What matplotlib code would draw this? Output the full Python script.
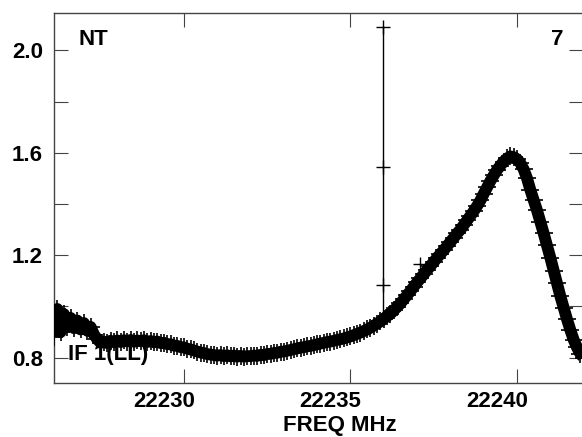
import matplotlib
matplotlib.use('Agg')
import matplotlib.pyplot as plt
from matplotlib.transforms import ScaledTranslation

# --- data (channel frequency in MHz, amplitude) ---
freq_mhz = [
    22226.1, 22226.2, 22226.3, 22226.4, 22226.5, 22226.6, 22226.7, 22226.8, 22226.9, 22227.0,
    22227.1, 22227.2, 22227.3, 22227.4, 22227.5, 22227.6, 22227.7, 22227.8, 22227.9, 22228.0,
    22228.1, 22228.2, 22228.3, 22228.4, 22228.5, 22228.6, 22228.7, 22228.8, 22228.9, 22229.0,
    22229.1, 22229.2, 22229.3, 22229.4, 22229.5, 22229.6, 22229.7, 22229.8, 22229.9, 22230.0,
    22230.1, 22230.2, 22230.3, 22230.4, 22230.5, 22230.6, 22230.7, 22230.8, 22230.9, 22231.0,
    22231.1, 22231.2, 22231.3, 22231.4, 22231.5, 22231.6, 22231.7, 22231.8, 22231.9, 22232.0,
    22232.1, 22232.2, 22232.3, 22232.4, 22232.5, 22232.6, 22232.7, 22232.8, 22232.9, 22233.0,
    22233.1, 22233.2, 22233.3, 22233.4, 22233.5, 22233.6, 22233.7, 22233.8, 22233.9, 22234.0,
    22234.1, 22234.2, 22234.3, 22234.4, 22234.5, 22234.6, 22234.7, 22234.8, 22234.9, 22235.0,
    22235.1, 22235.2, 22235.3, 22235.4, 22235.5, 22235.6, 22235.7, 22235.8, 22235.9, 22236.0,
    22236.1, 22236.2, 22236.3, 22236.4, 22236.5, 22236.6, 22236.7, 22236.8, 22236.9, 22237.0,
    22237.1, 22237.2, 22237.3, 22237.4, 22237.5, 22237.6, 22237.7, 22237.8, 22237.9, 22238.0,
    22238.1, 22238.2, 22238.3, 22238.4, 22238.5, 22238.6, 22238.7, 22238.8, 22238.9, 22239.0,
    22239.1, 22239.2, 22239.3, 22239.4, 22239.5, 22239.6, 22239.7, 22239.8, 22239.9, 22240.0,
    22240.1, 22240.2, 22240.3, 22240.4, 22240.5, 22240.6, 22240.7, 22240.8, 22240.9, 22241.0,
    22241.1, 22241.2, 22241.3, 22241.4, 22241.5, 22241.6, 22241.7, 22241.8, 22241.9, 22242.0,
]
amp = [
    0.880, 0.990, 0.900, 0.970, 0.920, 0.955, 0.915, 0.945, 0.910, 0.935,
    0.905, 0.920, 0.890, 0.872, 0.858, 0.862, 0.857, 0.866, 0.860, 0.867,
    0.861, 0.868, 0.863, 0.869, 0.862, 0.867, 0.864, 0.868, 0.861, 0.865,
    0.860, 0.863, 0.857, 0.858, 0.853, 0.852, 0.847, 0.846, 0.841, 0.840,
    0.835, 0.832, 0.828, 0.824, 0.820, 0.818, 0.814, 0.812, 0.810, 0.808,
    0.810, 0.806, 0.809, 0.805, 0.808, 0.804, 0.807, 0.804, 0.806, 0.806,
    0.808, 0.807, 0.811, 0.810, 0.814, 0.815, 0.818, 0.819, 0.823, 0.824,
    0.827, 0.830, 0.833, 0.836, 0.839, 0.841, 0.844, 0.846, 0.849, 0.852,
    0.855, 0.858, 0.861, 0.863, 0.866, 0.869, 0.872, 0.875, 0.879, 0.883,
    0.888, 0.893, 0.898, 0.904, 0.910, 0.917, 0.925, 0.933, 0.942, 0.952,
    0.962, 0.972, 0.985, 0.998, 1.012, 1.028, 1.044, 1.060, 1.077, 1.094,
    1.110, 1.126, 1.142, 1.158, 1.174, 1.190, 1.205, 1.220, 1.236, 1.252,
    1.268, 1.285, 1.300, 1.318, 1.336, 1.354, 1.372, 1.392, 1.414, 1.440,
    1.465, 1.490, 1.512, 1.533, 1.550, 1.566, 1.578, 1.586, 1.583, 1.575,
    1.560, 1.535, 1.500, 1.455, 1.415, 1.375, 1.330, 1.285, 1.238, 1.190,
    1.140, 1.090, 1.040, 0.995, 0.950, 0.908, 0.870, 0.840, 0.815, 0.800,
]

# spike channel and one stray point above the line
spike_freq = [22235.98, 22235.98, 22235.98, 22235.98]
spike_amp = [0.955, 1.082, 1.543, 2.090]
stray_freq = [22237.1]
stray_amp = [1.165]

x_ticks = [22230, 22235, 22240]
x_labels = ['22230', '22235', '22240']
y_ticks = [0.8, 1.0, 1.2, 1.4, 1.6, 1.8, 2.0]
y_labels = ['0.8', '', '1.2', '', '1.6', '', '2.0']

plt.rcParams['font.family'] = ['Liberation Sans', 'DejaVu Sans']
plt.rcParams['font.weight'] = 'bold'

W, H = 582, 437
FS = 16
fig = plt.figure(figsize=(W / 100, H / 100), dpi=100)
ax = fig.add_axes([54 / W, 1 - 383 / H, (583 - 54) / W, (383 - 13) / H])

ax.plot(freq_mhz, amp, color='black', linewidth=8.5, solid_capstyle='butt',
        marker='+', markersize=12.5, markeredgewidth=1.2, zorder=3)
ax.plot(spike_freq, spike_amp, color='black', linewidth=1.0,
        marker='+', markersize=9.5, markeredgewidth=1.0, zorder=4)
ax.plot(stray_freq, stray_amp, linestyle='none', color='black',
        marker='+', markersize=9.5, markeredgewidth=1.0, zorder=4)

ax.set_xlim(22226.10, 22241.98)
ax.set_ylim(0.701, 2.146)
ax.set_xticks(x_ticks, labels=x_labels)
ax.set_yticks(y_ticks, labels=y_labels)
ax.tick_params(direction='in', length=10, width=0.8, color='#444444',
               top=True, right=True, labelsize=FS)
ax.tick_params(axis='x', pad=6)
ax.tick_params(axis='y', pad=8)
for sp in ax.spines.values():
    sp.set_color('#444444')
    sp.set_linewidth(1.0)

# x tick labels sit a bit left of their ticks
shift = ScaledTranslation(-0.20, 0, fig.dpi_scale_trans)
for lab in ax.get_xticklabels():
    lab.set_transform(lab.get_transform() + shift)

fig.text(78 / W, 1 - 45 / H, 'NT', fontsize=FS, fontweight='bold', va='baseline', ha='left')
fig.text(563 / W, 1 - 45 / H, '7', fontsize=FS, fontweight='bold', va='baseline', ha='right')
fig.text(68 / W, 1 - 360 / H, 'IF 1(LL)', fontsize=FS, fontweight='bold',
         va='baseline', ha='left', zorder=1)
fig.text(340 / W, 1 - 431 / H, 'FREQ MHz', fontsize=FS, fontweight='bold',
         va='baseline', ha='center')

fig.savefig('out.png', dpi=100)
plt.close(fig)
